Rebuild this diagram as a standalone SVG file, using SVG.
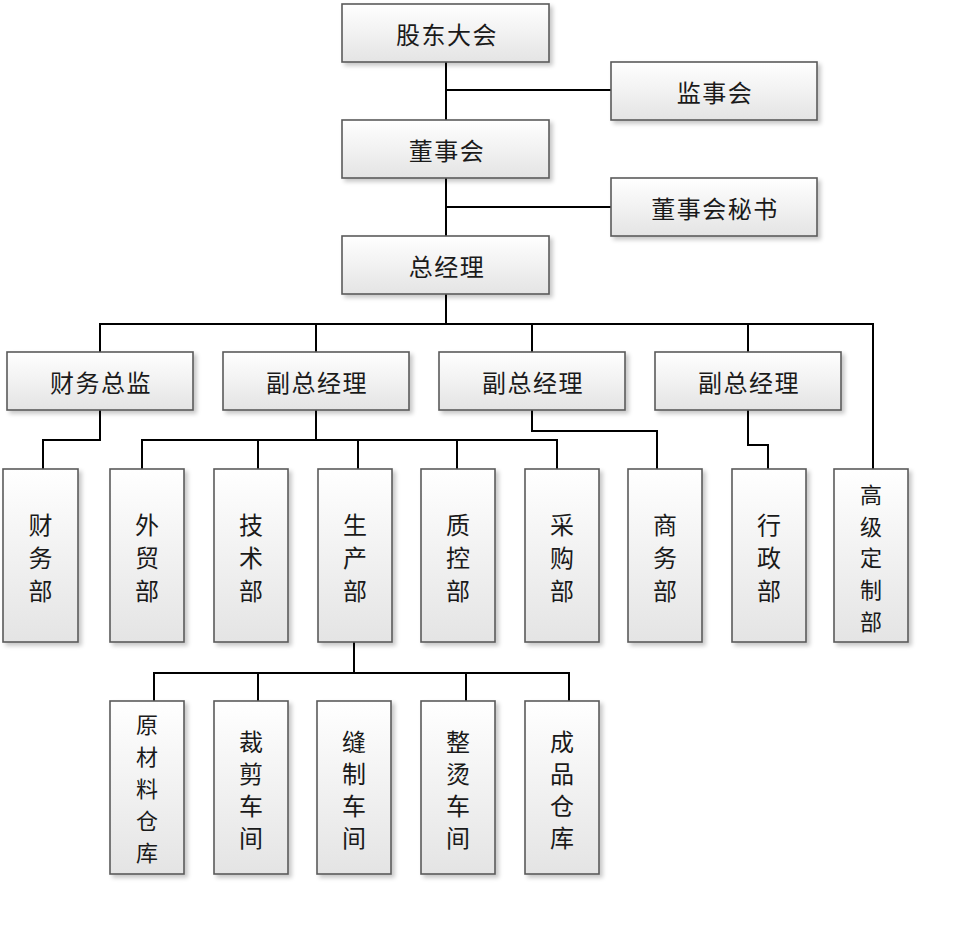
<svg xmlns="http://www.w3.org/2000/svg" width="958" height="926" viewBox="0 0 958 926">
<defs>
<linearGradient id="g" x1="0" y1="0" x2="0" y2="1">
<stop offset="0" stop-color="#ffffff"/>
<stop offset="1" stop-color="#e4e4e4"/>
</linearGradient>
<filter id="sh" x="-10%" y="-10%" width="130%" height="130%">
<feDropShadow dx="3" dy="3" stdDeviation="2" flood-color="#000" flood-opacity="0.22"/>
</filter>
</defs>
<style>
.box{fill:url(#g);stroke:#5a5a5a;stroke-width:1.6;filter:url(#sh)}
.t{font-family:"Noto Sans CJK SC","Noto Sans CJK JP",sans-serif;font-size:24px;fill:#1a1a1a;text-anchor:middle;dominant-baseline:central}
.h{font-size:24px;letter-spacing:1.5px}
.s{font-size:22px}
.c{fill:none;stroke:#000;stroke-width:2}
</style>
<rect width="958" height="926" fill="#fff"/>
<g id="connectors">
<path class="c" d="M446 62V120M446 90H611"/>
<path class="c" d="M446 178V236M446 207H611"/>
<path class="c" d="M446 294V324M100 352V324H873V470M316 324V352M532 324V352M748 324V352"/>
<path class="c" d="M100 410V440H43V469"/>
<path class="c" d="M316 410V440M142 469V440H557V469M258 440V469M358 440V469M457 440V469"/>
<path class="c" d="M532 410V431H657V469"/>
<path class="c" d="M748 410V445H768V469"/>
<path class="c" d="M354 642V673M154 701V673H569V701M258 673V701M466 673V701"/>
</g>
<g id="n1"><rect class="box" x="342" y="4" width="207" height="58"/><text class="t h" x="447" y="33">股东大会</text></g>
<g id="n2"><rect class="box" x="611" y="62" width="206" height="58"/><text class="t h" x="715" y="91">监事会</text></g>
<g id="n3"><rect class="box" x="342" y="120" width="207" height="58"/><text class="t h" x="447" y="149">董事会</text></g>
<g id="n4"><rect class="box" x="611" y="178" width="206" height="58"/><text class="t h" x="715" y="207">董事会秘书</text></g>
<g id="n5"><rect class="box" x="342" y="236" width="207" height="58"/><text class="t h" x="447" y="265">总经理</text></g>
<g id="n6"><rect class="box" x="7" y="352" width="186" height="58"/><text class="t h" x="101" y="381">财务总监</text></g>
<g id="n7"><rect class="box" x="223" y="352" width="186" height="58"/><text class="t h" x="317" y="381">副总经理</text></g>
<g id="n8"><rect class="box" x="439" y="352" width="186" height="58"/><text class="t h" x="533" y="381">副总经理</text></g>
<g id="n9"><rect class="box" x="655" y="352" width="186" height="58"/><text class="t h" x="749" y="381">副总经理</text></g>
<g id="n10"><rect class="box" x="3" y="469" width="75" height="173"/><text class="t"><tspan x="40.5" y="523">财</tspan><tspan x="40.5" y="556">务</tspan><tspan x="40.5" y="589">部</tspan></text></g>
<g id="n11"><rect class="box" x="110" y="469" width="74" height="173"/><text class="t"><tspan x="147" y="523">外</tspan><tspan x="147" y="556">贸</tspan><tspan x="147" y="589">部</tspan></text></g>
<g id="n12"><rect class="box" x="214" y="469" width="74" height="173"/><text class="t"><tspan x="251" y="523">技</tspan><tspan x="251" y="556">术</tspan><tspan x="251" y="589">部</tspan></text></g>
<g id="n13"><rect class="box" x="318" y="469" width="74" height="173"/><text class="t"><tspan x="355" y="523">生</tspan><tspan x="355" y="556">产</tspan><tspan x="355" y="589">部</tspan></text></g>
<g id="n14"><rect class="box" x="421" y="469" width="74" height="173"/><text class="t"><tspan x="458" y="523">质</tspan><tspan x="458" y="556">控</tspan><tspan x="458" y="589">部</tspan></text></g>
<g id="n15"><rect class="box" x="525" y="469" width="74" height="173"/><text class="t"><tspan x="562" y="523">采</tspan><tspan x="562" y="556">购</tspan><tspan x="562" y="589">部</tspan></text></g>
<g id="n16"><rect class="box" x="628" y="469" width="74" height="173"/><text class="t"><tspan x="665" y="523">商</tspan><tspan x="665" y="556">务</tspan><tspan x="665" y="589">部</tspan></text></g>
<g id="n17"><rect class="box" x="732" y="469" width="74" height="173"/><text class="t"><tspan x="769" y="523">行</tspan><tspan x="769" y="556">政</tspan><tspan x="769" y="589">部</tspan></text></g>
<g id="n18"><rect class="box" x="834" y="469" width="74" height="173"/><text class="t s"><tspan x="871" y="493">高</tspan><tspan x="871" y="525">级</tspan><tspan x="871" y="556">定</tspan><tspan x="871" y="588">制</tspan><tspan x="871" y="620">部</tspan></text></g>
<g id="n19"><rect class="box" x="110" y="701" width="74" height="173"/><text class="t s"><tspan x="147" y="723">原</tspan><tspan x="147" y="755">材</tspan><tspan x="147" y="787">料</tspan><tspan x="147" y="819">仓</tspan><tspan x="147" y="851">库</tspan></text></g>
<g id="n20"><rect class="box" x="214" y="701" width="74" height="173"/><text class="t"><tspan x="251" y="740">裁</tspan><tspan x="251" y="772">剪</tspan><tspan x="251" y="804">车</tspan><tspan x="251" y="836">间</tspan></text></g>
<g id="n21"><rect class="box" x="317" y="701" width="74" height="173"/><text class="t"><tspan x="354" y="740">缝</tspan><tspan x="354" y="772">制</tspan><tspan x="354" y="804">车</tspan><tspan x="354" y="836">间</tspan></text></g>
<g id="n22"><rect class="box" x="421" y="701" width="74" height="173"/><text class="t"><tspan x="458" y="740">整</tspan><tspan x="458" y="772">烫</tspan><tspan x="458" y="804">车</tspan><tspan x="458" y="836">间</tspan></text></g>
<g id="n23"><rect class="box" x="525" y="701" width="74" height="173"/><text class="t"><tspan x="562" y="740">成</tspan><tspan x="562" y="772">品</tspan><tspan x="562" y="804">仓</tspan><tspan x="562" y="836">库</tspan></text></g>
</svg>
